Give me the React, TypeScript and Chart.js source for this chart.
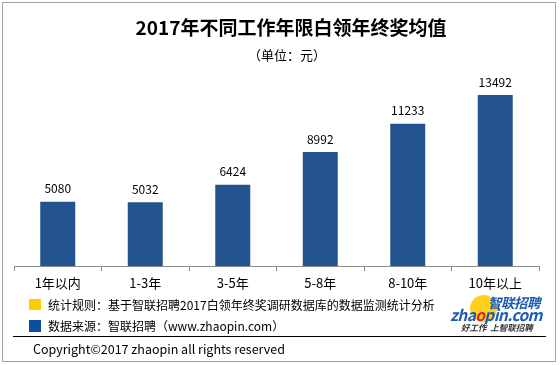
import React, { useEffect, useRef } from "react";
import { Chart, registerables } from "chart.js";

Chart.register(...registerables);

const categories = ["1年以内", "1-3年", "3-5年", "5-8年", "8-10年", "10年以上"];
const values = [5080, 5032, 6424, 8992, 11233, 13492];
const yMax = 15000;

const titleText = "2017年不同工作年限白领年终奖均值";
const subtitleText = "（单位：元）";
const legendRule = "统计规则：基于智联招聘2017白领年终奖调研数据库的数据监测统计分析";
const legendSource = "数据来源：智联招聘（www.zhaopin.com）";
const copyrightText = "Copyright©2017 zhaopin all rights reserved";

const FONT = '"Noto Sans CJK SC", "Noto Sans", sans-serif';
const BAR_COLOR = "#23548f";

const valueLabelPlugin = {
  id: "valueLabels",
  afterDatasetsDraw(chart: any) {
    const ctx = chart.ctx;
    const meta = chart.getDatasetMeta(0);
    ctx.save();
    ctx.font = `12px ${FONT}`;
    ctx.fillStyle = "#000";
    ctx.textAlign = "center";
    ctx.textBaseline = "middle";
    meta.data.forEach((el: any, i: number) => {
      ctx.fillText(String(values[i]), el.x, el.y - 13);
    });
    ctx.restore();
  },
};

export default function App() {
  const ref = useRef<HTMLCanvasElement | null>(null);

  useEffect(() => {
    if (!ref.current) return;
    const chart = new Chart(ref.current, {
      type: "bar",
      data: {
        labels: categories,
        datasets: [
          {
            data: values,
            backgroundColor: BAR_COLOR,
            categoryPercentage: 1,
            barPercentage: 0.4,
          },
        ],
      },
      options: {
        animation: false,
        responsive: false,
        maintainAspectRatio: false,
        layout: { padding: { left: 14, right: 21, top: 76, bottom: 0 } },
        plugins: {
          legend: { display: false },
          tooltip: { enabled: false },
          title: { display: false },
        },
        scales: {
          x: {
            offset: true,
            grid: {
              display: true,
              drawOnChartArea: false,
              drawTicks: true,
              tickLength: 5,
              color: "#8c8c8c",
              offset: true,
            },
            border: { display: true, color: "#8c8c8c", width: 1 },
            ticks: {
              color: "#000",
              font: { family: FONT, size: 13 },
              padding: 4,
              maxRotation: 0,
              autoSkip: false,
            },
            afterFit: (scale: any) => {
              scale.height = 99;
            },
          },
          y: {
            display: false,
            min: 0,
            max: yMax,
          },
        },
      },
      plugins: [valueLabelPlugin],
    });
    return () => chart.destroy();
  }, []);

  const abs = (s: React.CSSProperties): React.CSSProperties => ({
    position: "absolute",
    whiteSpace: "nowrap",
    fontFamily: FONT,
    ...s,
  });

  return (
    <div
      style={{
        position: "fixed",
        left: 0,
        top: 0,
        width: 560,
        height: 365,
        background: "#fff",
        overflow: "hidden",
      }}
    >
      <div
        style={abs({
          left: 2,
          top: 2,
          width: 552,
          height: 358,
          border: "1px solid #a3a3a3",
        })}
      />
      <canvas
        ref={ref}
        width={560}
        height={365}
        style={{ position: "absolute", left: 0, top: 0, width: 560, height: 365 }}
      />
      <div
        style={abs({
          left: 0,
          width: 582,
          top: 15,
          lineHeight: "24px",
          fontSize: 19,
          fontWeight: "bold",
          textAlign: "center",
          color: "#000",
        })}
      >
        {titleText}
      </div>
      <div
        style={abs({
          left: 0,
          width: 574,
          top: 46,
          lineHeight: "18px",
          fontSize: 13,
          textAlign: "center",
          color: "#000",
        })}
      >
        {subtitleText}
      </div>
      <div style={abs({ left: 29, top: 299, width: 12, height: 11, background: "#ffcc00" })} />
      <div style={abs({ left: 29, top: 320, width: 12, height: 12, background: "#0a4fa0" })} />
      <div style={abs({ left: 48, top: 297, lineHeight: "16px", fontSize: 12, color: "#000" })}>
        {legendRule}
      </div>
      <div style={abs({ left: 48, top: 318, lineHeight: "16px", fontSize: 12, color: "#000" })}>
        {legendSource}
      </div>
      <div style={abs({ left: 13, top: 336, width: 533, height: 1, background: "#000" })} />
      <div style={abs({ left: 33, top: 341, lineHeight: "16px", fontSize: 12.5, color: "#000" })}>
        {copyrightText}
      </div>
      {/* logo */}
      <div
        style={abs({
          left: 470,
          top: 295,
          width: 27,
          height: 27,
          borderRadius: "50%",
          background: "#ffd21a",
        })}
      />
      <div
        style={abs({
          left: 488,
          top: 294,
          lineHeight: "16px",
          fontSize: 13.5,
          fontWeight: "bold",
          fontStyle: "italic",
          color: "#1c5bb5",
          letterSpacing: -0.5,
        })}
      >
        智联招聘
      </div>
      <div
        style={abs({
          left: 450,
          top: 305,
          lineHeight: "18px",
          fontSize: 15.5,
          fontWeight: "bold",
          fontStyle: "italic",
          color: "#1c5bb5",
          letterSpacing: -0.6,
        })}
      >
        zha<span style={{ color: "#d8231f" }}>o</span>pin.com
      </div>
      <div
        style={abs({
          left: 461,
          top: 321,
          lineHeight: "12px",
          fontSize: 8.5,
          fontWeight: "bold",
          fontStyle: "italic",
          color: "#333",
        })}
      >
        好工作&nbsp;&nbsp;上智联招聘
      </div>
    </div>
  );
}
